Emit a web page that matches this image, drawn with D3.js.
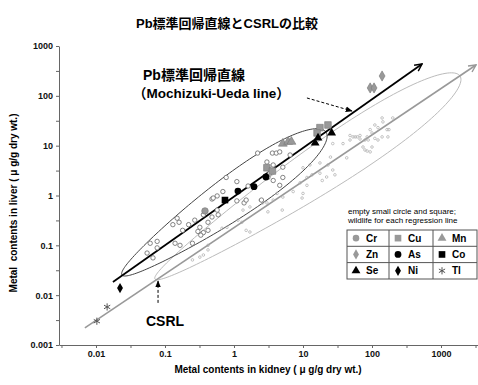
<!DOCTYPE html>
<html>
<head>
<meta charset="utf-8">
<script src="https://cdn.jsdelivr.net/npm/d3@7"></script>
<style>
  body { margin: 0; background: #fff; }
  svg { display: block; font-family: "Liberation Sans", Arial, "Noto Sans CJK JP", sans-serif; }
</style>
</head>
<body>
<svg id="chart" width="478" height="385"></svg>
<script>
// ---- data: [kidney, liver] in ug/g dry wt. ----
const title = 'Pb標準回帰直線とCSRLの比較';
const xTickExps = [-2.5, -2, -1.5, -1, -0.5, 0, 0.5, 1, 1.5, 2, 2.5, 3, 3.5];
const yTickExps = [-3, -2.5, -2, -1.5, -1, -0.5, 0, 0.5, 1, 1.5, 2, 2.5, 3];

// Pb standard regression line (Mochizuki-Ueda line) and CSRL
const pbLine = [[0.0176, 0.0184], [531, 435]];
const csrlLine = [[0.0069, 0.0022], [3214, 416]];

// wildlife used for each regression line (empty small symbols)
const pbWildlife = [
  [0.061, 0.11], [0.077, 0.12], [0.067, 0.056], [0.055, 0.070], [0.077, 0.089],
  [0.13, 0.26], [0.14, 0.11], [0.165, 0.10], [0.25, 0.11], [0.15, 0.35],
  [0.16, 0.29], [0.22, 0.26], [0.27, 0.32], [0.32, 0.23], [0.30, 0.19],
  [0.36, 0.18], [0.42, 0.20], [0.33, 0.16], [0.42, 0.29], [0.48, 0.37],
  [0.59, 0.41], [0.57, 0.51], [0.48, 0.85], [0.57, 0.98], [0.69, 1.2],
  [0.77, 2.3], [1.1, 1.9], [1.1, 0.78], [1.4, 0.71], [1.5, 0.81],
  [1.6, 1.55], [2.2, 7.1], [3.6, 7.1], [4.1, 7.1], [4.6, 7.5],
  [6.5, 6.5], [3.0, 4.7], [3.7, 4.1], [3.3, 2.8], [3.7, 2.0],
  [5.1, 3.7], [5.1, 2.3], [4.6, 1.6], [2.5, 0.81], [3.1, 2.3],
  [0.18, 0.20], [0.36, 0.41], [0.50, 0.89]
];
const otherWildlife = [
  [140, 36], [144, 30], [200, 36], [110, 26], [122, 23], [165, 21], [176, 21],
  [94, 21], [100, 18], [85, 15], [88, 13], [110, 14], [140, 15], [122, 13],
  [61, 15], [53, 15], [67, 13.6], [48, 13], [74, 9.4], [100, 9.4], [170, 15],
  [79, 8.2], [85, 7.8], [48, 16], [57, 15], [67, 16], [79, 13], [27, 11],
  [38, 11], [25, 5.9], [43, 5.7], [17.6, 4.5], [23, 4.1], [12.6, 4.1], [10, 3.6],
  [13.5, 2.6], [29, 2.6], [19, 2.0], [9.1, 1.8], [11.4, 1.6], [7.2, 1.2],
  [5.1, 0.93], [9.7, 0.89], [5.0, 0.51], [3.1, 0.47], [2.6, 0.71], [4.2, 1.1],
  [2.4, 0.81], [3.0, 0.71], [1.7, 0.59], [1.35, 0.51], [1.14, 0.32], [1.3, 0.29],
  [0.79, 0.23], [0.67, 0.22], [1.5, 0.20], [1.7, 0.185], [0.42, 0.081],
  [0.36, 0.064], [0.32, 0.058], [0.25, 0.051], [0.42, 0.10], [10, 1.1],
  [11.4, 2.3], [17.6, 2.8], [22, 2.35], [27, 3.25], [94, 7.5], [3.7, 0.81]
];

// ends of the outline drawn round each group
const pbOutlineEnds = [[0.0238, 0.0254], [21.5, 18.8]];
const csrlOutlineEnds = [[0.0716, 0.0211], [1884, 250]];

// individual metals
const metalPoints = {
  Cr: [[0.38, 0.49]],
  Cu: [[3.0, 3.6], [3.6, 3.1], [17.6, 23], [16, 18], [23, 26]],
  Mn: [[5.1, 11], [6.1, 12], [6.8, 12]],
  Zn: [[140, 250], [94, 144], [107, 144]],
  As: [[1.14, 1.23], [1.95, 1.5], [2.9, 2.35]],
  Co: [[0.74, 0.81]],
  Se: [[26, 18], [15, 11.3], [16.5, 14.3]],
  Ni: [[0.0223, 0.0139]],
  Tl: [[0.0103, 0.0030], [0.0145, 0.0058]]
};
const legendRows = [['Cr', 'Cu', 'Mn'], ['Zn', 'As', 'Co'], ['Se', 'Ni', 'Tl']];

// annotation arrows
const pbArrow = [[11.4, 90.6], [51.3, 49.7]];
const csrlArrow = [[0.0793, 0.0070], [0.0793, 0.0192]];

// ---- drawing ----
const svg = d3.select('#chart');
const x = d3.scaleLog().domain([Math.pow(10, -2.536), Math.pow(10, 3.536)]).range([59, 478]);
const y = d3.scaleLog().domain([0.001, 1000]).range([345, 46]);

const metalStyle = {
  Cr: {type: d3.symbolCircle, size: 34, fill: '#999'},
  Cu: {type: d3.symbolSquare, size: 44, fill: '#999'},
  Mn: {type: d3.symbolTriangle, size: 34, fill: '#999'},
  Zn: {type: d3.symbolDiamond, size: 30, fill: '#999'},
  As: {type: d3.symbolCircle, size: 36, fill: '#000'},
  Co: {type: d3.symbolSquare, size: 44, fill: '#000'},
  Se: {type: d3.symbolTriangle, size: 34, fill: '#000'},
  Ni: {type: d3.symbolDiamond, size: 30, fill: '#000'},
  Tl: {type: d3.symbolAsterisk, size: 36, fill: 'none', stroke: '#555'}
};

const defs = svg.append('defs');
function openArrow(id, color) {
  defs.append('marker')
    .attr('id', id).attr('viewBox', '0 0 10 10').attr('refX', 9).attr('refY', 5)
    .attr('markerWidth', 9).attr('markerHeight', 9).attr('markerUnits', 'userSpaceOnUse')
    .attr('orient', 'auto')
    .append('path').attr('d', 'M1,1 L9,5 L1,9')
    .attr('fill', 'none').attr('stroke', color).attr('stroke-width', 1.6);
}
function solidArrow(id, color) {
  defs.append('marker')
    .attr('id', id).attr('viewBox', '0 0 10 10').attr('refX', 9).attr('refY', 5)
    .attr('markerWidth', 7).attr('markerHeight', 7).attr('markerUnits', 'userSpaceOnUse')
    .attr('orient', 'auto')
    .append('path').attr('d', 'M0,1 L10,5 L0,9 Z').attr('fill', color);
}
openArrow('arrBlack', '#000');
openArrow('arrGray', '#999');
solidArrow('tipBlack', '#000');

// title
svg.append('text')
  .attr('x', 227).attr('y', 28).attr('text-anchor', 'middle')
  .attr('font-size', 13).attr('font-weight', 'bold')
  .text(title);

// axes
const decadeLabel = e => e < 0 ? Math.pow(10, e).toFixed(-e) : String(Math.pow(10, e));

const xAxis = d3.axisBottom(x)
  .tickValues(xTickExps.map(e => Math.pow(10, e)))
  .tickSize(3).tickSizeOuter(0).tickPadding(3)
  .tickFormat((d, i) => Number.isInteger(xTickExps[i]) ? decadeLabel(xTickExps[i]) : '');
const yAxis = d3.axisLeft(y)
  .tickValues(yTickExps.map(e => Math.pow(10, e)))
  .tickSize(3).tickSizeOuter(0).tickPadding(3)
  .tickFormat((d, i) => Number.isInteger(yTickExps[i]) ? decadeLabel(yTickExps[i]) : '');

const gx = svg.append('g').attr('transform', 'translate(0,345)').call(xAxis);
const gy = svg.append('g').attr('transform', 'translate(59,0)').call(yAxis);
[gx, gy].forEach(g => {
  g.select('.domain').attr('stroke', '#666');
  g.selectAll('.tick line').attr('stroke', '#666');
  g.selectAll('.tick text').attr('font-size', 9).attr('font-weight', 'bold')
    .attr('fill', '#111').attr('font-family', null);
});

svg.append('text')
  .attr('x', 268).attr('y', 373).attr('text-anchor', 'middle')
  .attr('font-size', 10).attr('font-weight', 'bold')
  .text('Metal contents in kidney ( μ g/g dry wt.)');
svg.append('text')
  .attr('transform', 'translate(17,203) rotate(-90)').attr('text-anchor', 'middle')
  .attr('font-size', 10).attr('font-weight', 'bold')
  .attr('xml:space', 'preserve')
  .text('Metal  contents in liver ( μ g/g dry wt.)');

// egg-shaped outline between two ends (halfWidth in px, skew widens the upper end)
function outlinePoints(ends, halfWidth, skew) {
  const p0 = [x(ends[0][0]), y(ends[0][1])];
  const p1 = [x(ends[1][0]), y(ends[1][1])];
  const cx = (p0[0] + p1[0]) / 2, cy = (p0[1] + p1[1]) / 2;
  const a = Math.hypot(p1[0] - p0[0], p1[1] - p0[1]) / 2;
  const ux = (p1[0] - p0[0]) / (2 * a), uy = (p1[1] - p0[1]) / (2 * a);
  return d3.range(0, 2 * Math.PI, Math.PI / 90).map(t => {
    const along = a * Math.cos(t);
    const across = halfWidth * Math.sin(t) * (1 + skew * Math.cos(t));
    return [cx + along * ux - across * uy, cy + along * uy + across * ux];
  });
}
const closed = d3.line().curve(d3.curveLinearClosed);
svg.append('path').attr('d', closed(outlinePoints(csrlOutlineEnds, 23, 0.35)))
  .attr('fill', 'none').attr('stroke', '#bbb').attr('stroke-width', 1);
svg.append('path').attr('d', closed(outlinePoints(pbOutlineEnds, 21, 0.3)))
  .attr('fill', 'none').attr('stroke', '#444').attr('stroke-width', 1);

// regression lines
const straight = d3.line().x(d => x(d[0])).y(d => y(d[1]));
svg.append('path').attr('d', straight(csrlLine))
  .attr('fill', 'none').attr('stroke', '#999').attr('stroke-width', 1.6)
  .attr('marker-end', 'url(#arrGray)');

// wildlife points
svg.append('g').selectAll('circle').data(otherWildlife).join('circle')
  .attr('cx', d => x(d[0])).attr('cy', d => y(d[1])).attr('r', 1.3)
  .attr('fill', 'none').attr('stroke', '#aaa').attr('stroke-width', 0.7);

svg.append('path').attr('d', straight(pbLine))
  .attr('fill', 'none').attr('stroke', '#000').attr('stroke-width', 1.8)
  .attr('marker-end', 'url(#arrBlack)');

svg.append('g').selectAll('circle').data(pbWildlife).join('circle')
  .attr('cx', d => x(d[0])).attr('cy', d => y(d[1])).attr('r', 2.2)
  .attr('fill', '#fff').attr('stroke', '#666').attr('stroke-width', 0.8);

// metal symbols
const symbolPath = m => d3.symbol().type(metalStyle[m].type).size(metalStyle[m].size)();
Object.keys(metalPoints).forEach(m => {
  const st = metalStyle[m];
  svg.append('g').selectAll('path').data(metalPoints[m]).join('path')
    .attr('transform', d => `translate(${x(d[0])},${y(d[1])})`)
    .attr('d', symbolPath(m))
    .attr('fill', st.fill)
    .attr('stroke', st.stroke || (st.fill === '#999' ? '#777' : 'none'))
    .attr('stroke-width', st.stroke ? 1 : 0.6);
});

// annotations
svg.append('path').attr('d', straight(pbArrow))
  .attr('stroke', '#000').attr('stroke-width', 1).attr('stroke-dasharray', '3,2')
  .attr('marker-end', 'url(#tipBlack)');
svg.append('path').attr('d', straight(csrlArrow))
  .attr('stroke', '#000').attr('stroke-width', 1).attr('stroke-dasharray', '3,2')
  .attr('marker-end', 'url(#tipBlack)');

svg.append('text').attr('x', 143).attr('y', 80)
  .attr('font-size', 14).attr('font-weight', 'bold').text('Pb標準回帰直線');
svg.append('text').attr('x', 133).attr('y', 98)
  .attr('font-size', 13.5).attr('font-weight', 'bold').text('（Mochizuki-Ueda line）');
svg.append('text').attr('x', 146).attr('y', 326)
  .attr('font-size', 14).attr('font-weight', 'bold').text('CSRL');

// legend
const lg = svg.append('g');
lg.append('text').attr('x', 348).attr('y', 214).attr('font-size', 8).attr('fill', '#000')
  .text('empty small circle and square;');
lg.append('text').attr('x', 348).attr('y', 223).attr('font-size', 8).attr('fill', '#000')
  .text('wildlife for each regression line');

const colX = [347, 389, 433, 477];
const rowY = [230, 246.3, 262.6, 279];
lg.append('rect').attr('x', colX[0]).attr('y', rowY[0])
  .attr('width', colX[3] - colX[0]).attr('height', rowY[3] - rowY[0])
  .attr('fill', '#fff').attr('stroke', '#555').attr('stroke-width', 1);
[1, 2].forEach(i => {
  lg.append('line').attr('x1', colX[i]).attr('x2', colX[i]).attr('y1', rowY[0]).attr('y2', rowY[3])
    .attr('stroke', '#555');
  lg.append('line').attr('x1', colX[0]).attr('x2', colX[3]).attr('y1', rowY[i]).attr('y2', rowY[i])
    .attr('stroke', '#555');
});
legendRows.forEach((row, r) => {
  row.forEach((m, c) => {
    const st = metalStyle[m];
    const cy = (rowY[r] + rowY[r + 1]) / 2;
    lg.append('path')
      .attr('transform', `translate(${colX[c] + 9},${cy})`)
      .attr('d', symbolPath(m))
      .attr('fill', st.fill)
      .attr('stroke', st.stroke || 'none').attr('stroke-width', 1);
    lg.append('text').attr('x', colX[c] + 19).attr('y', cy + 3.5)
      .attr('font-size', 10).attr('font-weight', 'bold').text(m);
  });
});
</script>
</body>
</html>
